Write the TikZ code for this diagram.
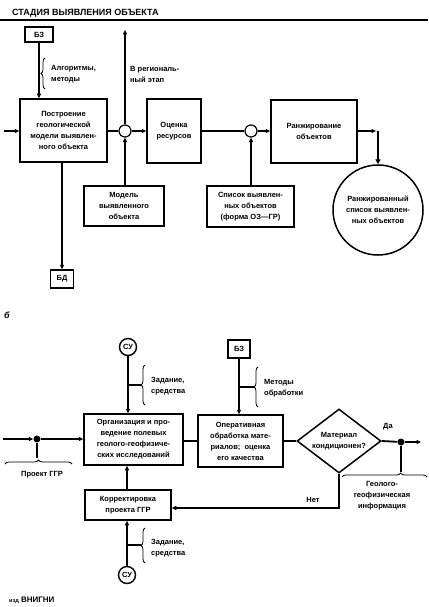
\documentclass[tikz,border=0pt]{standalone}
\usepackage{fontspec}
\setmainfont{Liberation Sans}
\usetikzlibrary{arrows.meta,shapes.geometric,decorations.pathreplacing}
\begin{document}
\begin{tikzpicture}[x=1pt,y=-1pt,
  font=\fontsize{7.5}{11}\selectfont\bfseries,
  box/.style={draw, line width=1.5pt, align=center, inner sep=0pt},
  lbl/.style={align=left, inner sep=0pt, anchor=west},
  ctr/.style={align=center, inner sep=0pt},
  junc/.style={draw, circle, line width=1.2pt, minimum size=12pt, inner sep=0pt, fill=white},
  dotn/.style={circle, fill=black, minimum size=7pt, inner sep=0pt},
  su/.style={draw, circle, line width=1.4pt, minimum size=17pt, inner sep=0pt},
  con/.style={line width=1.8pt},
  arr/.style={line width=1.8pt, -{Triangle[length=4.5pt,width=4pt]}},
  brc/.style={decorate, decoration={brace, amplitude=4pt}, line width=0.8pt},
  diam/.style={draw, diamond, line width=1.5pt, minimum width=84pt, minimum height=64pt, inner sep=0pt}
]
\useasboundingbox[fill=white] (0,0) rectangle (428,607);

% ---------- top part ----------
\node[anchor=base west, inner sep=0pt, font=\fontsize{9}{10}\selectfont\bfseries] (title) at (12,16) {СТАДИЯ ВЫЯВЛЕНИЯ ОБЪЕКТА};
\coordinate (rl) at (0,20);
\coordinate (rr) at (428,20);
\draw[line width=1.3pt] (rl) -- (rr);

\node[box, minimum width=28pt, minimum height=15pt] (bz1) at (39,34.5) {БЗ};
\node[box, minimum width=87pt, minimum height=63pt] (build) at (63.5,130.5) {Построение\\геологической\\модели выявлен-\\ного объекта};
\node[box, minimum width=54pt, minimum height=64pt] (est) at (174,131) {Оценка\\ресурсов};
\node[box, minimum width=86pt, minimum height=63pt] (rank) at (314,131.5) {Ранжирование\\объектов};
\node[junc] (c1) at (125,131) {};
\node[junc] (c2) at (251,131) {};
\node[box, minimum width=80pt, minimum height=40pt] (model) at (124,206) {Модель\\выявленного\\объекта};
\node[box, minimum width=87pt, minimum height=41pt] (list) at (250.5,206.5) {Список выявлен-\\ных объектов\\(форма ОЗ---ГР)};
\node[box, minimum width=23pt, minimum height=18pt] (bd) at (62,279) {БД};
\node[draw, circle, line width=1.5pt, minimum size=90pt, inner sep=0pt, align=center] (rlist) at (378,210) {Ранжированный\\список выявлен-\\ных объектов};

\coordinate (in1) at (4,131);
\coordinate (up1) at (125,30);
\coordinate (rout) at (376,131);
\coordinate (rdown) at (378,131);

\draw[arr] (in1) -- (build.west |- in1);
\draw[arr] (bz1.south) -- (bz1.south |- build.north);
\draw[con] (build.east |- c1) -- (c1.west);
\draw[arr] (c1.east) -- (est.west |- c1);
\draw[arr] (c1.north) -- (up1);
\draw[arr] (model.north -| c1) -- (c1.south);
\draw[con] (est.east |- c2) -- (c2.west);
\draw[arr] (c2.east) -- (rank.west |- c2);
\draw[arr] (list.north -| c2) -- (c2.south);
\draw[line width=1.8pt, -{Triangle[length=4.5pt,width=4pt]}] (rank.east |- rout) -- (rout);
\draw[line width=2.8pt, -{Triangle[length=5pt,width=5pt]}] (rdown) -- (rlist.north);
\draw[arr] (build.south -| bd) -- (bd.north);

\coordinate (b1a) at (45,89);
\coordinate (b1b) at (45,58);
\draw[brc] (b1a) -- (b1b);
\node[lbl] (alg) at (51,74) {Алгоритмы,\\методы};
\node[lbl] (reg) at (130,74) {В региональ-\\ный этап};

% ---------- bottom part ----------
\node[inner sep=0pt, font=\fontsize{9}{10}\selectfont\bfseries\itshape] (lb) at (7,315) {б};

\node[su] (su1) at (128,347) {СУ};
\node[box, minimum width=99pt, minimum height=51pt] (org) at (133.5,439.5) {Организация и про-\\ведение полевых\\геолого-геофизиче-\\ских исследований};
\node[box, minimum width=85pt, minimum height=52pt] (oper) at (240.5,441) {Оперативная\\обработка мате-\\риалов;\ \ оценка\\его качества};
\node[box, minimum width=22pt, minimum height=18pt] (bz2) at (239,349) {БЗ};
\node[diam] (dia) at (339,441) {};
\node[ctr] (diat) at (dia.center) {Материал\\кондиционен?};
\node[dotn] (d1) at (37,439) {};
\node[dotn] (d2) at (401,442) {};
\node[box, minimum width=86pt, minimum height=30pt] (korr) at (128,505) {Корректировка\\проекта ГГР};
\node[su] (su2) at (127,575) {СУ};

\coordinate (in2) at (3,439);
\coordinate (out2) at (421,442);
\coordinate (d1b) at (37,458);
\coordinate (d2b) at (401,472);
\coordinate (s1) at (128,385);
\coordinate (s1b) at (141,385);
\coordinate (z2) at (239,387);
\coordinate (z2b) at (254,387);
\coordinate (s2) at (127,545);
\coordinate (s2b) at (141,545);
\coordinate (nb) at (339,508);

\draw[arr] (in2) -- (d1);
\draw[arr] (d1) -- (org.west |- d1);
\draw[con] (d1) -- (d1b);
\draw[brc] (5,464) coordinate (pb1) -- (72,464) coordinate (pb2);
\draw[arr] (su1.south) -- (org.north -| su1);
\draw[con] (s1) -- (s1b);
\draw[brc] (145,405) coordinate (sb1) -- (145,365) coordinate (sb2);
\draw[arr] (bz2.south) -- (oper.north -| bz2);
\draw[con] (z2) -- (z2b);
\draw[brc] (258,407) coordinate (mb1) -- (258,367) coordinate (mb2);
\draw[con] (org.east |- oper.west) -- (oper.west);
\draw[con] (oper.east) -- (dia.west);
\draw[con] (dia.east) -- (d2);
\draw[arr] (d2) -- (out2);
\draw[con] (d2) -- (d2b);
\draw[decorate, decoration={brace, amplitude=4pt, aspect=0.69}, line width=0.8pt] (342,477) coordinate (gb1) -- (427,477) coordinate (gb2);
\draw[line width=1.8pt, -{Triangle[length=4.5pt,width=4pt]}] (dia.south) |- (korr.east |- nb);
\draw[arr] (korr.north -| su2) -- (org.south -| su2);
\draw[arr] (su2.north) -- (korr.south -| su2);
\draw[con] (s2) -- (s2b);
\draw[brc] (145,563) coordinate (tb1) -- (145,528) coordinate (tb2);

\node[lbl] (zad1) at (151,386) {Задание,\\средства};
\node[lbl] (met) at (264,388) {Методы\\обработки};
\node[ctr] (proj) at (42,475) {Проект ГГР};
\node[ctr] (geo) at (382,496) {Геолого-\\геофизическая\\информация};
\node[ctr] (net) at (313,500) {Нет};
\node[ctr] (da) at (388,427) {Да};
\node[lbl] (zad2) at (151,548) {Задание,\\средства};
\node[anchor=base west, inner sep=0pt, font=\fontsize{8}{10}\selectfont\bfseries] (src) at (9,602) {{\fontsize{5.5}{6}\selectfont изд} ВНИГНИ};
\end{tikzpicture}
\end{document}
